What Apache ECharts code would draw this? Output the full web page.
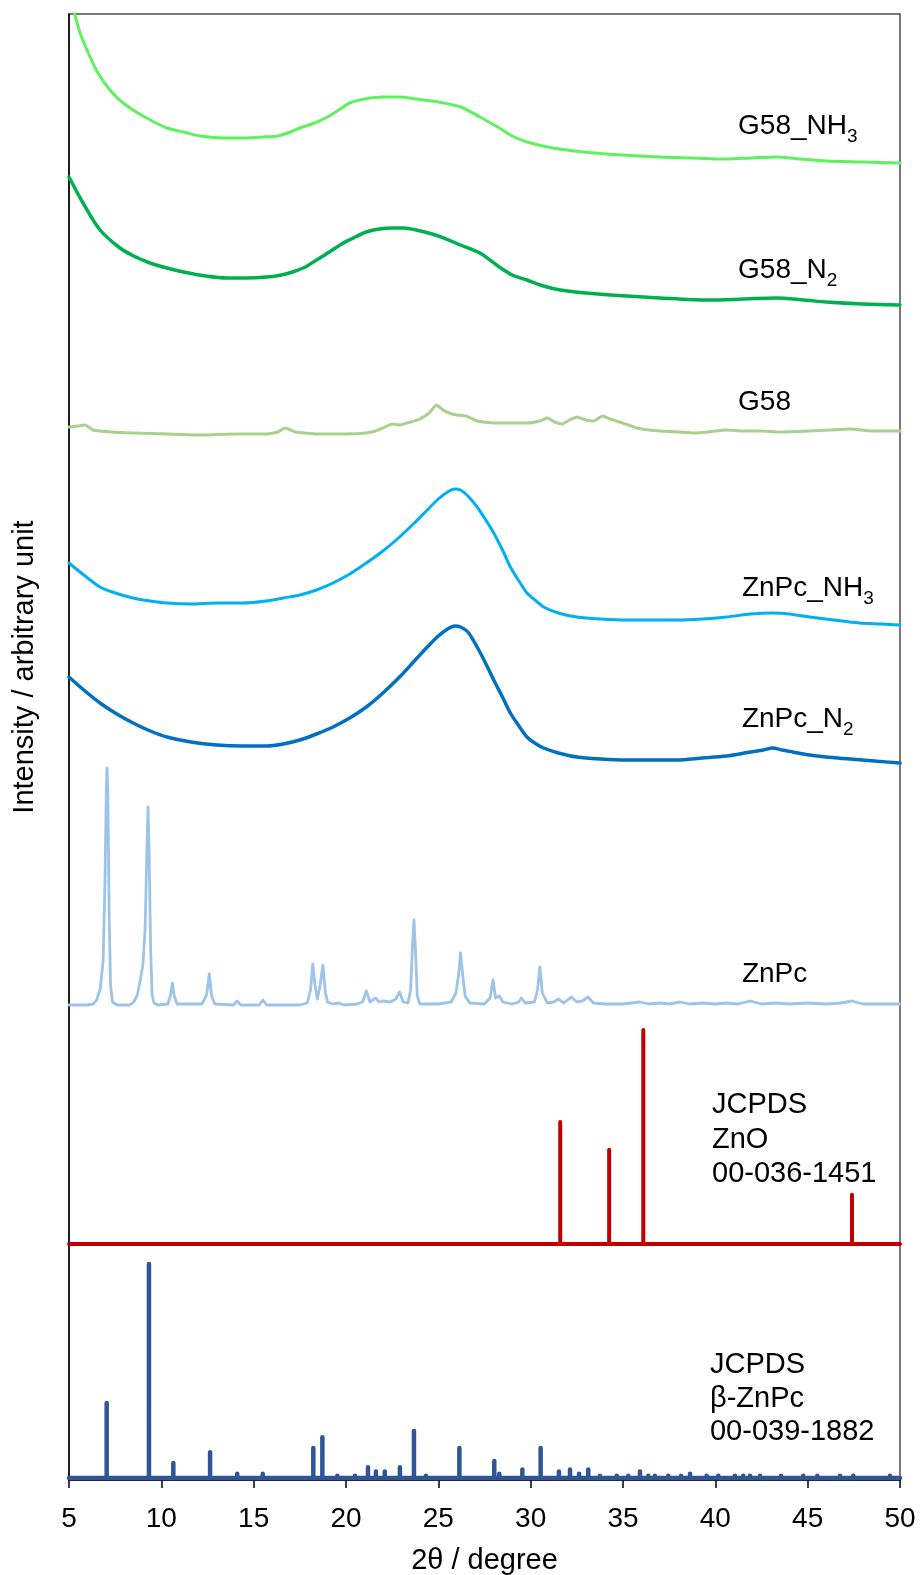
<!DOCTYPE html>
<html>
<head>
<meta charset="utf-8">
<title>XRD patterns</title>
<script src="https://cdn.jsdelivr.net/npm/echarts@6/dist/echarts.min.js"></script>
<style>
  html, body { margin: 0; padding: 0; background: #ffffff; }
  #chart { width: 920px; height: 1575px; }
</style>
</head>
<body>
<div id="chart"></div>
<script>
// ---- data: [2θ (degree), intensity (arbitrary, offset per trace)] ----
const xTickValues = [5, 10, 15, 20, 25, 30, 35, 40, 45, 50];

const g58NH3 = [
  [5.0,1482],[5.3,1466],[5.6,1447],[6.14,1423],[6.6,1406],[7.22,1390],[7.8,1379],[8.47,1370],
  [9.4,1360],[10.3,1352],[11.2,1348],[12.1,1344],[13.4,1342],[14.6,1342],[15.5,1343],[16.3,1344],
  [17.0,1348],[17.5,1352],[18.3,1357],[19.0,1363],[19.6,1370],[20.2,1377],[21.0,1381],[22.0,1383],
  [22.9,1383],[23.8,1381],[25.0,1378],[26.2,1373],[27.25,1363],[28.3,1352],[29.0,1344],[29.8,1338],
  [31.2,1332],[33.4,1327],[35.0,1325],[37.0,1323],[38.8,1322],[40.6,1321],[42.0,1322],[43.3,1323],
  [44.6,1321],[46.0,1319],[48.0,1318],[50.0,1317]
];

const g58N2 = [
  [5.0,1303],[5.76,1277],[6.68,1250],[7.76,1232],[8.5,1224],[9.39,1217],[10.3,1212],[11.2,1208],
  [12.4,1204],[13.55,1202],[14.6,1202],[15.7,1203],[16.5,1205],[17.1,1208],[17.8,1213],[18.4,1220],
  [19.1,1228],[19.85,1237],[20.5,1243],[21.1,1248],[21.8,1251],[22.5,1252],[23.1,1252],[23.8,1250],
  [25.0,1244],[26.2,1235],[27.25,1227],[28.3,1213],[29.0,1205],[29.8,1200],[30.7,1194],[31.6,1190],
  [33.0,1187],[34.3,1185],[37.0,1182],[39.7,1180],[41.5,1181],[43.3,1182],[44.8,1180],[46.0,1178],
  [48.0,1176],[50.0,1175]
];

const g58 = [
  [5.0,1053],[5.5,1054],[5.87,1055],[6.3,1050],[7.3,1048],[8.5,1047],[10.3,1046],[12.1,1045],
  [14.0,1046],[15.7,1046],[16.3,1048],[16.7,1052],[17.3,1048],[18.4,1046],[20.0,1046],[21.1,1047],
  [21.6,1049],[22.0,1052],[22.5,1056],[22.9,1055],[23.5,1058],[24.0,1061],[24.5,1067],[24.9,1075],
  [25.25,1070],[25.6,1067],[26.0,1065],[26.5,1064],[27.1,1059],[28.0,1057],[28.9,1057],[29.8,1057],
  [30.5,1059],[30.9,1062],[31.3,1058],[31.7,1056],[32.1,1060],[32.5,1063],[33.0,1060],[33.4,1059],
  [33.9,1064],[34.3,1061],[34.8,1058],[35.3,1055],[35.75,1052],[36.4,1050],[37.0,1049],[38.0,1048],
  [38.8,1047],[39.6,1048],[40.6,1050],[41.5,1049],[42.4,1049],[43.5,1048],[45.1,1049],[46.2,1050],
  [47.3,1051],[48.5,1049],[50.0,1049]
];

const znpcNH3 = [
  [5.0,917],[5.8,905],[6.68,893],[7.5,887],[8.47,882],[9.4,879],[10.3,877],[11.6,876],[13.0,877],
  [14.4,877],[15.7,879],[16.6,882],[17.5,885],[18.4,890],[19.3,897],[20.2,906],[21.1,917],[22.0,929],
  [22.9,943],[23.7,957],[24.4,970],[25.0,981],[25.5,988],[25.9,991],[26.2,990],[26.6,984],[27.1,973],
  [27.5,962],[28.0,947],[28.5,929],[28.9,913],[29.4,898],[29.8,887],[30.3,879],[30.7,873],[31.5,867],
  [32.5,863],[33.8,861],[35.2,860],[36.5,860],[37.9,860],[39.3,861],[40.6,863],[41.9,866],[43.1,867],
  [44.0,866],[45.1,863],[46.4,860],[47.8,857],[49.0,856],[50.0,855]
];

const znpcN2 = [
  [5.0,803],[5.8,790],[6.68,777],[7.5,767],[8.47,757],[9.4,749],[10.3,743],[11.6,738],[13.0,735],
  [14.4,734],[15.7,734],[16.6,736],[17.5,740],[18.4,746],[19.3,753],[20.2,762],[21.1,773],[22.0,787],
  [22.9,803],[23.7,819],[24.4,833],[25.0,844],[25.5,851],[25.9,854],[26.2,853],[26.6,848],[27.1,833],
  [27.5,819],[28.0,800],[28.5,782],[28.9,767],[29.4,753],[29.8,743],[30.3,736],[30.7,732],[31.5,727],
  [32.5,723],[33.8,721],[35.2,720],[36.5,720],[37.9,720],[39.3,722],[40.6,724],[41.9,728],[42.6,730],
  [43.1,732],[43.6,730],[44.2,728],[45.1,725],[46.0,723],[47.3,721],[48.6,719],[50.0,717]
];

const znpc = [
  [5.0,475],[6.0,475],[6.3,476],[6.5,480],[6.7,492],[6.85,520],[6.95,600],[7.02,690],[7.06,712],
  [7.1,690],[7.18,560],[7.25,495],[7.35,478],[7.6,475],[8.3,475],[8.5,478],[8.7,485],[8.84,498],
  [9.0,515],[9.12,550],[9.22,630],[9.28,673],[9.34,630],[9.42,530],[9.5,485],[9.6,477],[9.8,475],
  [10.35,476],[10.5,485],[10.6,497],[10.7,484],[10.85,476],[12.2,476],[12.45,485],[12.6,506],
  [12.72,484],[12.9,476],[13.9,475],[14.1,479],[14.3,475],[15.3,475],[15.5,480],[15.7,475],
  [17.5,475],[17.9,477],[18.08,490],[18.2,516],[18.32,495],[18.45,481],[18.6,495],[18.75,515],
  [18.88,488],[19.0,478],[19.3,476],[19.6,477],[19.9,475],[20.6,476],[20.9,478],[21.1,489],
  [21.3,478],[21.6,482],[21.8,478],[22.0,479],[22.4,478],[22.7,481],[22.9,488],[23.1,478],
  [23.35,477],[23.5,490],[23.6,535],[23.68,560],[23.76,530],[23.86,484],[24.0,476],[25.0,476],
  [25.7,478],[25.95,487],[26.1,505],[26.2,527],[26.32,505],[26.45,484],[26.7,477],[27.5,476],
  [27.8,482],[27.96,500],[28.1,482],[28.3,484],[28.5,478],[29.0,476],[29.35,478],[29.5,482],
  [29.7,477],[30.2,478],[30.37,490],[30.5,513],[30.63,487],[30.9,477],[31.25,478],[31.5,481],
  [31.8,477],[32.2,483],[32.5,478],[32.8,479],[33.1,483],[33.4,477],[34.0,476],[35.0,476],
  [35.9,478],[36.4,476],[37.0,477],[37.5,476],[38.1,478],[38.6,476],[39.3,477],[40.0,476],
  [40.6,477],[41.2,476],[41.9,479],[42.5,476],[43.3,477],[44.0,476],[45.0,477],[46.0,476],
  [46.8,477],[47.4,479],[48.0,476],[49.0,476],[50.0,476]
];

// reference patterns: peak positions (2θ) and relative intensities (%)
const znoPositions   = [31.6, 34.25, 36.1, 47.4];
const znoIntensities = [57, 44, 100, 23];

const betaZnPcPositions = [
  7.04, 9.33, 10.65, 12.64, 14.11, 15.49, 18.23, 18.72, 19.53, 20.49, 21.19, 21.62, 22.1, 22.92,
  23.68, 24.33, 26.14, 28.03, 28.3, 29.55, 30.54, 31.53, 32.13, 32.62, 33.12, 33.75, 34.66, 35.29,
  35.92, 36.37, 36.73, 37.45, 38.14, 38.63, 39.53, 40.16, 41.06, 41.51, 41.88, 42.42, 43.56, 44.76,
  45.52, 46.75, 47.47, 49.46
];
const betaZnPcIntensities = [
  35, 100, 7, 12, 2, 2, 14, 19, 1, 1, 5, 3, 3, 5,
  22, 1, 14, 8, 2, 4, 14, 3, 4, 2, 4, 1, 1, 1,
  3, 1, 1, 1, 1, 2, 1, 1, 1, 1, 1, 1, 1, 1,
  1, 1, 1, 1
];

// ---- layout / style ----
const FONT = '"Liberation Sans", Arial, Helvetica, sans-serif';
const stickScale = 2.14;       // axis units per % relative intensity
const znoBaseline = 236;
const betaBaseline = 2;

function stickPath(positions, intensities, base) {
  const path = [[5, base]];
  positions.forEach((p, i) => {
    path.push([p, base], [p, base + intensities[i] * stickScale], [p, base]);
  });
  path.push([50, base]);
  return path;
}

function curve(name, data, color, width, smooth) {
  return {
    name, type: 'line', data, symbol: 'none',
    smooth: smooth || false,
    lineStyle: { color, width, join: 'round', cap: 'round' },
    emphasis: { disabled: true }, silent: true, animation: false
  };
}

const chart = echarts.init(document.getElementById('chart'), null, { renderer: 'canvas' });

const option = {
  backgroundColor: '#ffffff',
  animation: false,
  grid: {
    left: 69, right: 20, top: 14, bottom: 95,
    containLabel: false, outerBoundsMode: 'none',
    show: true, borderColor: '#4d4d4d', borderWidth: 1.5, backgroundColor: 'transparent'
  },
  xAxis: {
    type: 'value', min: 5, max: 50, interval: 5,
    name: '2θ / degree', nameLocation: 'middle', nameGap: 66,
    nameTextStyle: { fontFamily: FONT, fontSize: 29, color: '#000' },
    axisLine: { show: true, onZero: false, lineStyle: { color: '#000', width: 1.5 } },
    axisTick: { show: true, inside: false, length: 8, lineStyle: { color: '#000', width: 1.5 } },
    axisLabel: {
      show: true, margin: 25, fontFamily: FONT, fontSize: 28, color: '#000',
      showMinLabel: true, showMaxLabel: true,
      formatter: v => (xTickValues.includes(v) ? String(v) : '')
    },
    splitLine: { show: false }
  },
  yAxis: {
    type: 'value', min: 0, max: 1466,
    axisLine: { show: true, onZero: false, lineStyle: { color: '#000', width: 1.5 } },
    axisTick: { show: false },
    axisLabel: { show: false },
    splitLine: { show: false }
  },
  series: [
    curve('G58_NH3', g58NH3, '#5ff25f', 3, 0.3),
    curve('G58_N2', g58N2, '#00b050', 3.5, 0.3),
    curve('G58', g58, '#a9d18e', 3, 0.15),
    curve('ZnPc_NH3', znpcNH3, '#00b0f0', 3, 0.3),
    curve('ZnPc_N2', znpcN2, '#0070c0', 3.5, 0.3),
    curve('ZnPc', znpc, '#9dc3e6', 2.8, false),
    curve('JCPDS ZnO 00-036-1451', stickPath(znoPositions, znoIntensities, znoBaseline), '#c00000', 4, false),
    curve('JCPDS β-ZnPc 00-039-1882', stickPath(betaZnPcPositions, betaZnPcIntensities, betaBaseline), '#2f5597', 4.5, false)
  ]
};

chart.setOption(option);

// ---- trace labels (anchored in data coordinates; parts alternate main text / subscript) ----
const traceLabels = [
  { at: [41.23, 1354], size: 28, lines: [['G58_NH', '3']] },
  { at: [41.23, 1210], size: 28, lines: [['G58_N', '2']] },
  { at: [41.23, 1078], size: 28, lines: [['G58']] },
  { at: [41.44, 892],  size: 28, lines: [['ZnPc_NH', '3']] },
  { at: [41.44, 761],  size: 28, lines: [['ZnPc_N', '2']] },
  { at: [41.44, 506],  size: 28, lines: [['ZnPc']] },
  { at: [39.82, 375],  size: 29, lineGap: 34.5, lines: [['JCPDS'], ['ZnO'], ['00-036-1451']] },
  { at: [39.71, 115],  size: 29, lineGap: 33.5, lines: [['JCPDS'], ['β-ZnPc'], ['00-039-1882']] }
];

const measureCtx = document.createElement('canvas').getContext('2d');
function textWidth(text, size) {
  measureCtx.font = size + 'px ' + FONT;
  return measureCtx.measureText(text).width;
}

const graphics = [];
traceLabels.forEach(spec => {
  const [px, py] = chart.convertToPixel({ gridIndex: 0 }, spec.at);
  spec.lines.forEach((parts, li) => {
    let x = px;
    const y = py + li * (spec.lineGap || 0);
    parts.forEach((part, pi) => {
      const isSub = pi % 2 === 1;
      const size = isSub ? Math.round(spec.size * 0.67) : spec.size;
      graphics.push({
        type: 'text', silent: true, z: 100,
        x: x, y: isSub ? y + spec.size * 0.4 : y,
        style: {
          text: part, fill: '#000', fontFamily: FONT, fontSize: size,
          align: 'left', verticalAlign: 'middle'
        }
      });
      x += textWidth(part, size);
    });
  });
});

// y-axis title
graphics.push({
  type: 'text', silent: true, z: 100,
  x: 25, y: 667, rotation: Math.PI / 2,
  style: {
    text: 'Intensity / arbitrary unit', fill: '#000', fontFamily: FONT, fontSize: 29,
    align: 'center', verticalAlign: 'middle'
  }
});

chart.setOption({ graphic: graphics });
</script>
</body>
</html>
